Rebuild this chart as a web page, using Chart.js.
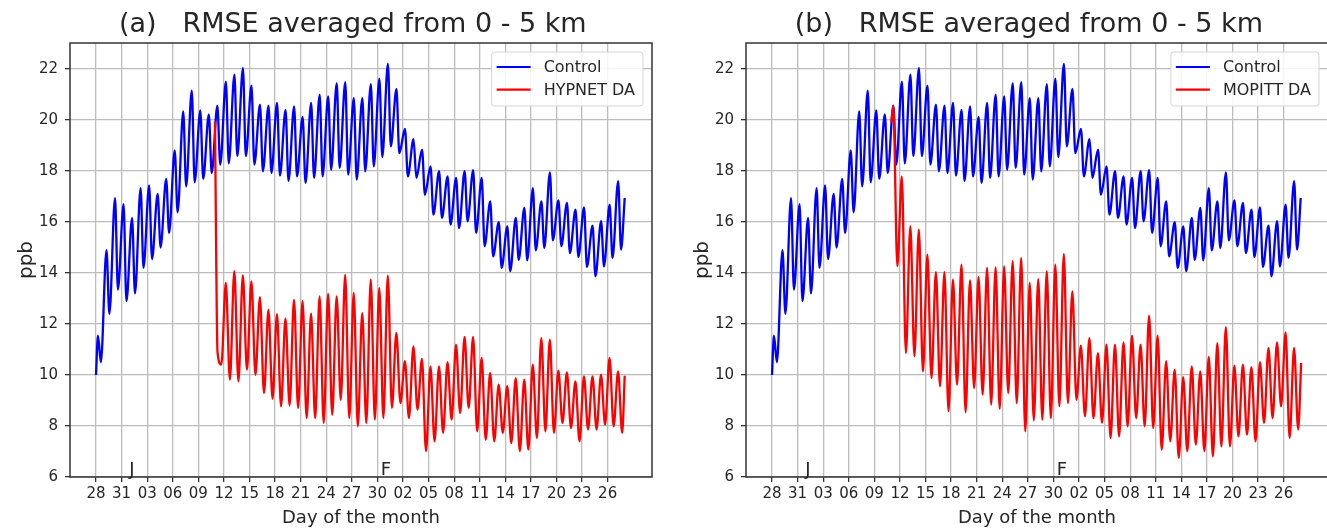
<!DOCTYPE html>
<html><head><meta charset="utf-8">
<script src="https://cdn.jsdelivr.net/npm/chart.js@4.4.0/dist/chart.umd.min.js"></script>
<style>
html,body{margin:0;padding:0;background:#fff;width:1327px;height:531px;overflow:hidden;}
.panel{position:absolute;top:0;width:675px;height:531px;}
#pa{left:0}#pb{left:676px}
</style></head><body>
<div class="panel" id="pa"><canvas id="ca" width="675" height="531"></canvas></div>
<div class="panel" id="pb"><canvas id="cb" width="675" height="531"></canvas></div>
<script>
// ---- tick labels (days counted from 28 Dec) ----
const xTickLabels = ['28','31','03','06','09','12','15','18','21','24','27','30','02','05','08','11','14','17','20','23','26'];
const xTickDays = [0,3,6,9,12,15,18,21,24,27,30,33,36,39,42,45,48,51,54,57,60];
const yTicks = [6,8,10,12,14,16,18,20,22];
const monthMarks = [{label:'J', day:4.2}, {label:'F', day:34.0}];

// ---- Control (same run in both panels): daily maxima / minima, days 0..61 ----
const controlFirst = 10.0;   // day 0.0
const controlLast = 16.94;   // day 62.0
const controlPeaks = [11.54,14.9,16.94,16.7,16.16,17.33,17.44,17.1,17.69,18.81,
  20.34,21.15,20.38,20.22,20.56,21.5,21.78,22.04,21.35,20.6,
  20.56,20.67,20.4,20.53,20.12,20.67,20.99,20.93,21.45,21.48,
  20.86,20.86,21.41,21.62,22.2,21.22,19.65,19.25,18.84,18.18,
  17.99,17.79,17.73,17.99,18.03,17.73,16.81,15.99,15.83,16.16,
  16.55,17.33,16.81,17.95,16.85,16.75,16.48,16.57,15.86,16.03,
  16.68,17.6];
const controlTroughs = [10.5,12.4,13.35,12.9,13.2,14.2,14.55,15.0,15.57,16.38,
  17.4,17.56,17.69,17.92,18.25,18.3,18.58,18.58,18.25,17.99,
  17.92,17.82,17.6,17.79,17.53,17.73,17.79,18.05,18.12,17.86,
  17.66,17.99,18.18,18.55,18.97,18.7,17.79,17.73,17.07,16.29,
  16.16,15.9,15.76,16.03,15.57,15.05,14.65,14.2,14.07,14.52,
  14.5,14.89,14.98,15.28,15.05,14.78,14.63,14.24,13.87,14.26,
  14.59,14.92];

// ---- HYPNET DA (panel a): starts day 13.95 ----
const hypnetStart = [[13.95,19.95],[14.25,10.9]];
const hypnetPeaks = [13.61,14.07,13.91,13.67,13.05,12.56,12.39,12.22,12.95,12.9,   // days 15..24
  12.41,13.08,13.18,13.08,13.93,13.22,12.43,13.74,13.41,13.9,                       // 25..34
  11.65,10.54,11.12,10.63,10.34,10.34,10.5,11.19,11.49,11.49,                       // 35..44
  10.67,10.08,9.62,9.56,9.88,9.82,10.41,11.45,11.39,10.17,                          // 45..54
  10.1,9.75,9.95,9.95,10.01,10.67,10.14];                                            // 55..61
const hypnetTroughs = [10.41,9.82,9.75,10.21,10.01,9.29,9.06,8.77,8.8,8.71,          // days 14..23
  8.31,8.31,8.12,8.44,9.03,8.31,7.99,8.12,8.25,8.31,                                 // 24..33
  8.71,8.9,8.31,8.64,7.01,7.4,7.73,8.25,8.51,8.71,                                   // 34..43
  7.79,7.46,7.4,7.73,7.33,7.01,7.07,7.53,7.79,7.73,                                  // 44..53
  8.12,7.92,7.4,7.86,7.86,8.05,7.99,7.73];                                           // 54..61
const hypnetLast = 9.97;

// ---- MOPITT DA (panel b): starts day 14.0 ----
const mopittStart = [[14.0,19.9]];
const mopittPeaks = [20.56,17.79,15.83,15.7,14.72,14.03,14.03,13.74,14.33,13.71,     // days 14..23
  13.84,14.2,14.22,14.26,14.46,14.59,13.61,13.76,14.07,14.33,                        // 24..33
  14.75,13.28,11.15,11.45,10.86,11.19,11.19,11.28,11.54,11.19,                       // 34..43
  12.33,11.54,10.54,10.21,9.92,10.34,10.14,10.71,11.25,11.88,                        // 44..53
  10.37,10.41,10.31,10.5,11.06,11.28,11.67,11.06];                                   // 54..61
const mopittTroughs = [14.26,10.86,10.73,10.14,9.88,9.56,8.58,9.62,8.54,9.49,        // days 14..23
  9.23,8.84,8.67,9.29,8.9,7.79,8.22,8.25,8.31,8.77,                                  // 24..33
  8.9,9.03,8.38,8.31,8.12,7.53,7.59,7.99,8.31,7.99,                                  // 34..43
  7.92,7.07,7.4,6.75,7.01,7.27,7.01,6.81,7.2,7.2,                                    // 44..53
  7.59,7.66,7.4,8.12,8.31,8.77,7.53,7.86];                                           // 54..61
const mopittLast = 10.47;

// time of day (fraction) at which the daily max / min occur
const ctlPeakT = 0.23, ctlTroughT = 0.57, daPeakT = 0.22, daTroughT = 0.70;

function controlSeries(){
  const pts = [{x:0, y:controlFirst}];
  for (let d = 0; d < controlPeaks.length; d++){
    pts.push({x:d+ctlPeakT, y:controlPeaks[d]});
    pts.push({x:d+ctlTroughT, y:controlTroughs[d]});
  }
  pts.push({x:62, y:controlLast});
  return pts;
}
function hypnetSeries(){
  const pts = hypnetStart.map(p => ({x:p[0], y:p[1]}));
  pts.push({x:14+daTroughT, y:hypnetTroughs[0]});
  for (let i = 0; i < hypnetPeaks.length; i++){
    const d = 15 + i;
    pts.push({x:d+daPeakT, y:hypnetPeaks[i]});
    pts.push({x:d+daTroughT, y:hypnetTroughs[i+1]});
  }
  pts.push({x:62, y:hypnetLast});
  return pts;
}
function mopittSeries(){
  const pts = mopittStart.map(p => ({x:p[0], y:p[1]}));
  for (let i = 0; i < mopittPeaks.length; i++){
    const d = 14 + i;
    pts.push({x:d+daPeakT, y:mopittPeaks[i]});
    pts.push({x:d+daTroughT, y:mopittTroughs[i]});
  }
  pts.push({x:62.05, y:mopittLast});
  return pts;
}

const FONT = '"DejaVu Sans", sans-serif';
const TXT = '#262626';

const decor = {
  id: 'decor',
  afterDraw(chart, args, opts){
    const ctx = chart.ctx, a = chart.chartArea;
    ctx.save();
    // frame
    ctx.strokeStyle = '#333';
    ctx.lineWidth = 1.5;
    ctx.strokeRect(a.left, a.top, a.right - a.left, a.bottom - a.top);
    // title
    ctx.fillStyle = TXT;
    ctx.font = '27px ' + FONT;
    ctx.textAlign = 'center';
    ctx.textBaseline = 'alphabetic';
    ctx.fillText(opts.title, a.left + (a.right - a.left) * 0.486, 32);
    // x axis title
    ctx.font = '18px ' + FONT;
    ctx.textBaseline = 'middle';
    ctx.fillText('Day of the month', (a.left + a.right) / 2, 518);
    // y axis title
    ctx.save();
    ctx.translate(27, (a.top + a.bottom) / 2);
    ctx.rotate(-Math.PI / 2);
    ctx.font = '20px ' + FONT;
    ctx.fillText('ppb', 0, 0);
    ctx.restore();
    // month marks
    const xs = chart.scales.x, ys = chart.scales.y;
    ctx.font = '18px ' + FONT;
    ctx.textBaseline = 'alphabetic';
    monthMarks.forEach(m => ctx.fillText(m.label, xs.getPixelForValue(m.day), ys.getPixelForValue(6.09)));
    // legend
    ctx.font = '16px ' + FONT;
    const ds = chart.data.datasets;
    const tw = Math.max(...ds.map(d => ctx.measureText(d.label).width));
    const boxW = 5 + 34 + 13 + tw + 8, boxH = 54;
    const bx = a.right - 9 - boxW, by = a.top + 9;
    ctx.beginPath();
    ctx.roundRect(bx, by, boxW, boxH, 3);
    ctx.fillStyle = 'rgba(255,255,255,0.85)';
    ctx.fill();
    ctx.strokeStyle = '#d4d4d4';
    ctx.lineWidth = 1;
    ctx.stroke();
    ds.forEach((d, i) => {
      const y = by + 15 + i * 22.6;
      ctx.beginPath();
      ctx.strokeStyle = d.borderColor;
      ctx.lineWidth = 2.2;
      ctx.moveTo(bx + 5, y); ctx.lineTo(bx + 39, y);
      ctx.stroke();
      ctx.fillStyle = TXT;
      ctx.textAlign = 'left';
      ctx.textBaseline = 'middle';
      ctx.fillText(d.label, bx + 52, y + 1);
    });
    ctx.restore();
  }
};

function makePanel(id, title, redLabel, redData){
  return new Chart(document.getElementById(id), {
    type: 'line',
    data: {
      datasets: [
        {label:'Control', data: controlSeries(), borderColor:'#0000ff', borderWidth:2.3, pointRadius:0, cubicInterpolationMode:'monotone', borderJoinStyle:'round', order:1},
        {label:redLabel, data: redData, borderColor:'#ff0000', borderWidth:2.3, pointRadius:0, cubicInterpolationMode:'monotone', borderJoinStyle:'round', order:0}
      ]
    },
    options: {
      responsive: false,
      animation: false,
      events: [],
      layout: {padding: {top: 43, right: 23, left: 0, bottom: 0}},
      plugins: {legend: {display:false}, title: {display:false}, tooltip: {enabled:false}, decor: {title: title}},
      scales: {
        x: {
          type: 'linear', min: -3.05, max: 65.2,
          afterBuildTicks: s => { s.ticks = xTickDays.map(v => ({value: v})); },
          afterFit: s => { s.height = 54; },
          grid: {color:'#bcbcbc', lineWidth:1.3, tickColor:'#333', tickLength:5, drawTicks:true},
          border: {display:false},
          ticks: {
            autoSkip:false, maxRotation:0, padding:3, color:TXT,
            font:{family:FONT, size:15},
            callback: v => xTickLabels[xTickDays.indexOf(v)]
          }
        },
        y: {
          type: 'linear', min: 6, max: 23.02,
          afterBuildTicks: s => { s.ticks = yTicks.map(v => ({value: v})); },
          afterFit: s => { s.width = 70; },
          grid: {color:'#bcbcbc', lineWidth:1.3, tickColor:'#333', tickLength:5, drawTicks:true},
          border: {display:false},
          ticks: {padding:7, color:TXT, font:{family:FONT, size:15}, callback: v => String(v)}
        }
      }
    },
    plugins: [decor]
  });
}

makePanel('ca', '(a)   RMSE averaged from 0 - 5 km', 'HYPNET DA', hypnetSeries());
makePanel('cb', '(b)   RMSE averaged from 0 - 5 km', 'MOPITT DA', mopittSeries());
</script>
</body></html>
